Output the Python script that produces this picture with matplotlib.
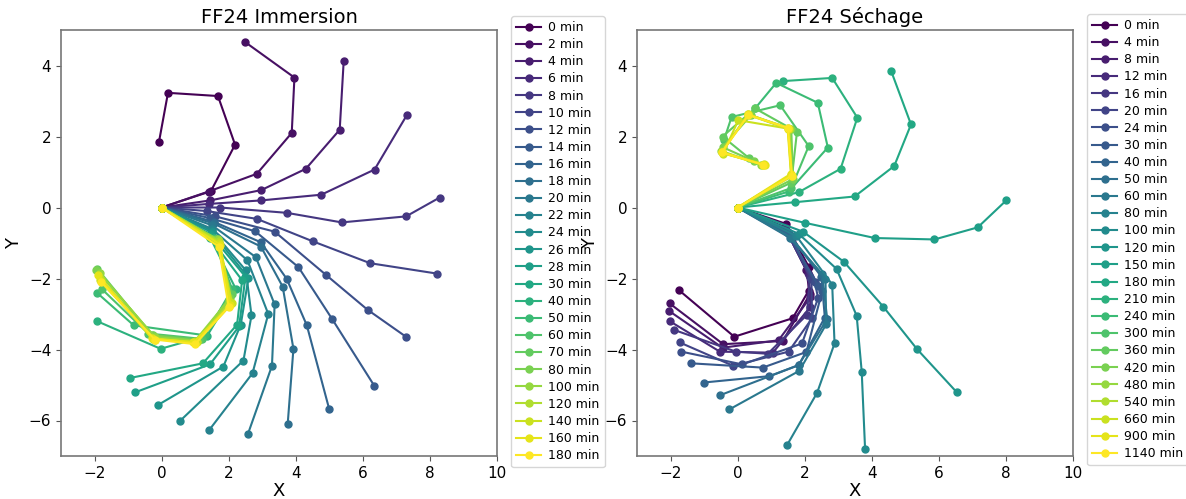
import numpy as np
import matplotlib
matplotlib.use("Agg")
import matplotlib.pyplot as plt

# ---------------- data ----------------
imm_times = [0, 2, 4, 6, 8, 10, 12, 14, 16, 18, 20, 22, 24, 26, 28, 30,
             40, 50, 60, 70, 80, 100, 120, 140, 160, 180]
imm_x = [
    [0, 1.47, 2.19, 1.68, 0.19, -0.08],
    [0, 1.40, 2.84, 3.88, 3.96, 2.49],
    [0, 1.45, 2.97, 4.30, 5.31, 5.43],
    [0, 1.40, 2.97, 4.76, 6.35, 7.31],
    [0, 1.74, 3.73, 5.37, 7.29, 8.29],
    [0, 1.35, 2.84, 4.50, 6.22, 8.20],
    [0, 1.60, 3.37, 4.89, 6.14, 7.30],
    [0, 1.45, 2.79, 4.08, 5.09, 6.34],
    [0, 1.55, 2.96, 3.73, 4.33, 5.00],
    [0, 1.55, 2.96, 3.61, 3.93, 3.76],
    [0, 1.50, 2.81, 3.37, 3.29, 2.57],
    [0, 1.50, 2.56, 3.18, 2.71, 1.41],
    [0, 1.50, 2.51, 2.68, 2.44, 0.54],
    [0, 1.50, 2.59, 2.36, 1.84, -0.12],
    [0, 1.45, 2.50, 2.31, 1.44, -0.80],
    [0, 1.40, 2.40, 2.25, 1.23, -0.93],
    [0, 1.45, 2.21, 1.36, -0.03, -1.93],
    [0, 1.55, 2.10, 1.30, -0.83, -1.93],
    [0, 1.60, 2.05, 1.20, -0.40, -1.78],
    [0, 1.62, 2.10, 1.10, -0.30, -1.92],
    [0, 1.65, 2.05, 1.05, -0.25, -1.95],
    [0, 1.68, 2.00, 1.00, -0.20, -1.85],
    [0, 1.70, 2.05, 1.00, -0.25, -1.80],
    [0, 1.72, 2.10, 1.05, -0.20, -1.85],
    [0, 1.75, 2.05, 0.95, -0.30, -1.90],
    [0, 1.70, 2.00, 1.00, -0.20, -1.80],
]
imm_y = [
    [0, 0.46, 1.77, 3.14, 3.23, 1.84],
    [0, 0.45, 0.95, 2.10, 3.66, 4.66],
    [0, 0.20, 0.49, 1.09, 2.19, 4.14],
    [0, 0.10, 0.20, 0.36, 1.07, 2.60],
    [0, 0.00, -0.15, -0.42, -0.25, 0.28],
    [0, -0.10, -0.32, -0.95, -1.57, -1.86],
    [0, -0.25, -0.68, -1.89, -2.88, -3.65],
    [0, -0.30, -0.67, -1.68, -3.15, -5.02],
    [0, -0.40, -0.98, -2.01, -3.32, -5.69],
    [0, -0.45, -1.10, -2.23, -3.98, -6.09],
    [0, -0.50, -1.40, -2.73, -4.46, -6.39],
    [0, -0.60, -1.49, -3.00, -4.67, -6.28],
    [0, -0.65, -1.77, -3.04, -4.31, -6.02],
    [0, -0.70, -1.98, -3.30, -4.48, -5.57],
    [0, -0.75, -1.95, -3.35, -4.42, -5.21],
    [0, -0.80, -2.05, -3.30, -4.39, -4.80],
    [0, -0.85, -2.29, -3.61, -3.98, -3.20],
    [0, -0.85, -2.30, -3.60, -3.32, -2.40],
    [0, -0.88, -2.45, -3.70, -3.55, -2.30],
    [0, -0.90, -2.45, -3.72, -3.58, -1.72],
    [0, -0.92, -2.55, -3.75, -3.60, -1.75],
    [0, -0.90, -2.60, -3.75, -3.65, -1.85],
    [0, -0.95, -2.65, -3.80, -3.70, -2.00],
    [0, -1.00, -2.70, -3.78, -3.72, -2.05],
    [0, -1.05, -2.75, -3.80, -3.68, -1.90],
    [0, -1.10, -2.80, -3.85, -3.72, -2.10],
]

sec_times = [0, 4, 8, 12, 16, 20, 24, 30, 40, 50, 60, 80, 100, 120, 150,
             180, 210, 240, 300, 360, 420, 480, 540, 660, 900, 1140]
sec_x = [
    [0, 1.44, 2.12, 2.12, 1.64, -0.10, -1.76],
    [0, 1.40, 2.05, 2.15, 1.35, -0.43, -2.03],
    [0, 1.42, 2.10, 2.17, 1.22, -0.45, -2.05],
    [0, 1.45, 2.12, 2.17, 1.05, -0.53, -2.01],
    [0, 1.45, 2.15, 2.07, 0.90, -0.05, -1.89],
    [0, 1.48, 2.20, 2.22, 1.52, -0.13, -1.73],
    [0, 1.50, 2.30, 2.40, 1.92, 0.14, -1.68],
    [0, 1.50, 2.40, 2.52, 2.05, 0.75, -1.38],
    [0, 1.55, 2.50, 2.60, 1.82, 0.95, -1.01],
    [0, 1.55, 2.52, 2.67, 1.82, -0.53],
    [0, 1.60, 2.62, 2.64, 1.84, -0.25],
    [0, 1.75, 2.82, 2.89, 2.37, 1.47],
    [0, 1.82, 2.95, 3.55, 3.70, 3.80],
    [0, 1.95, 3.17, 4.34, 5.35, 6.53],
    [0, 2.00, 4.09, 5.87, 7.16, 8.01],
    [0, 1.72, 3.49, 4.67, 5.17, 4.58],
    [0, 1.82, 3.07, 3.57, 2.82, 1.34],
    [0, 1.52, 2.69, 2.39, 1.15, 0.52],
    [0, 1.60, 2.12, 1.27, -0.18, -0.41],
    [0, 1.60, 1.77, 0.52, -0.45, 0.33],
    [0, 1.65, 1.60, 0.40, -0.45, 0.50],
    [0, 1.60, 1.55, 0.35, -0.50, 0.70],
    [0, 1.60, 1.50, 0.30, -0.48, 0.75],
    [0, 1.62, 1.52, 0.02, -0.43, 0.80],
    [0, 1.59, 1.49, 0.32, -0.46, 0.82],
    [0, 1.62, 1.50, 0.32, -0.48, 0.77],
]
sec_y = [
    [0, -0.46, -1.67, -2.34, -3.12, -3.64, -2.32],
    [0, -0.55, -1.75, -2.45, -3.76, -3.85, -2.70],
    [0, -0.60, -1.85, -2.53, -3.74, -3.95, -2.91],
    [0, -0.62, -1.90, -2.80, -4.09, -4.06, -3.21],
    [0, -0.65, -1.95, -3.02, -4.12, -4.06, -3.45],
    [0, -0.68, -2.00, -3.12, -4.06, -4.46, -3.80],
    [0, -0.70, -2.10, -2.55, -3.83, -4.42, -4.06],
    [0, -0.72, -2.20, -2.36, -4.07, -4.51, -4.39],
    [0, -0.78, -1.95, -3.10, -4.44, -4.75, -4.93],
    [0, -0.85, -1.87, -3.14, -4.44, -5.29],
    [0, -0.85, -2.01, -3.29, -4.60, -5.69],
    [0, -0.80, -2.17, -3.83, -5.22, -6.70],
    [0, -0.74, -1.73, -3.05, -4.62, -6.79],
    [0, -0.68, -1.53, -2.79, -3.99, -5.20],
    [0, -0.43, -0.86, -0.90, -0.56, 0.20],
    [0, 0.15, 0.31, 1.17, 2.34, 3.84],
    [0, 0.43, 1.09, 2.53, 3.65, 3.56],
    [0, 0.45, 1.69, 2.95, 3.51, 2.79],
    [0, 0.55, 1.73, 2.88, 2.55, 1.89],
    [0, 0.70, 2.13, 2.79, 2.00, 1.40],
    [0, 0.80, 2.20, 2.60, 1.70, 1.30],
    [0, 0.90, 2.20, 2.60, 1.60, 1.20],
    [0, 0.92, 2.25, 2.62, 1.55, 1.20],
    [0, 0.88, 2.22, 2.46, 1.52, 1.22],
    [0, 0.95, 2.22, 2.63, 1.56, 1.19],
    [0, 0.90, 2.25, 2.60, 1.55, 1.20],
]

titles = ["FF24 Immersion", "FF24 Séchage"]

# ---------------- figure ----------------
W, H = 1186, 499
fig = plt.figure(figsize=(W / 100, H / 100), dpi=100)

ax_pos = [(61, 30, 497, 456), (637, 30, 1073, 456)]
leg_pos = [(511, 16, 0.33), (1087, 14, 0.33)]
panels = [(imm_times, imm_x, imm_y), (sec_times, sec_x, sec_y)]

for k, ((times, xs, ys), title) in enumerate(zip(panels, titles)):
    l, t, r, b = ax_pos[k]
    ax = fig.add_axes([l / W, 1 - b / H, (r - l) / W, (b - t) / H])
    colors = plt.cm.viridis(np.linspace(0, 1, len(times)))
    for i, tm in enumerate(times):
        ax.plot(xs[i], ys[i], '-o', color=colors[i], lw=1.5, ms=5,
                label=f"{tm} min")
    ax.set_xlim(-3, 10)
    ax.set_ylim(-7, 5)
    ax.set_xticks([-2, 0, 2, 4, 6, 8, 10])
    ax.set_yticks([-6, -4, -2, 0, 2, 4])
    ax.tick_params(labelsize=11, color='#555555')
    ax.set_xlabel("X", fontsize=13, labelpad=1)
    ax.set_ylabel("Y", fontsize=13)
    ax.set_title(title, fontsize=14, pad=5)
    for s in ax.spines.values():
        s.set_color('#777777')
        s.set_linewidth(1.2)
    lx, ly, lsp = leg_pos[k]
    ax.legend(loc='upper left', bbox_to_anchor=(lx / W, 1 - ly / H),
              bbox_transform=fig.transFigure, fontsize=9,
              labelspacing=lsp, borderaxespad=0, handlelength=2.0,
              borderpad=0.4, handletextpad=0.6)

fig.savefig("out.png", dpi=100)
